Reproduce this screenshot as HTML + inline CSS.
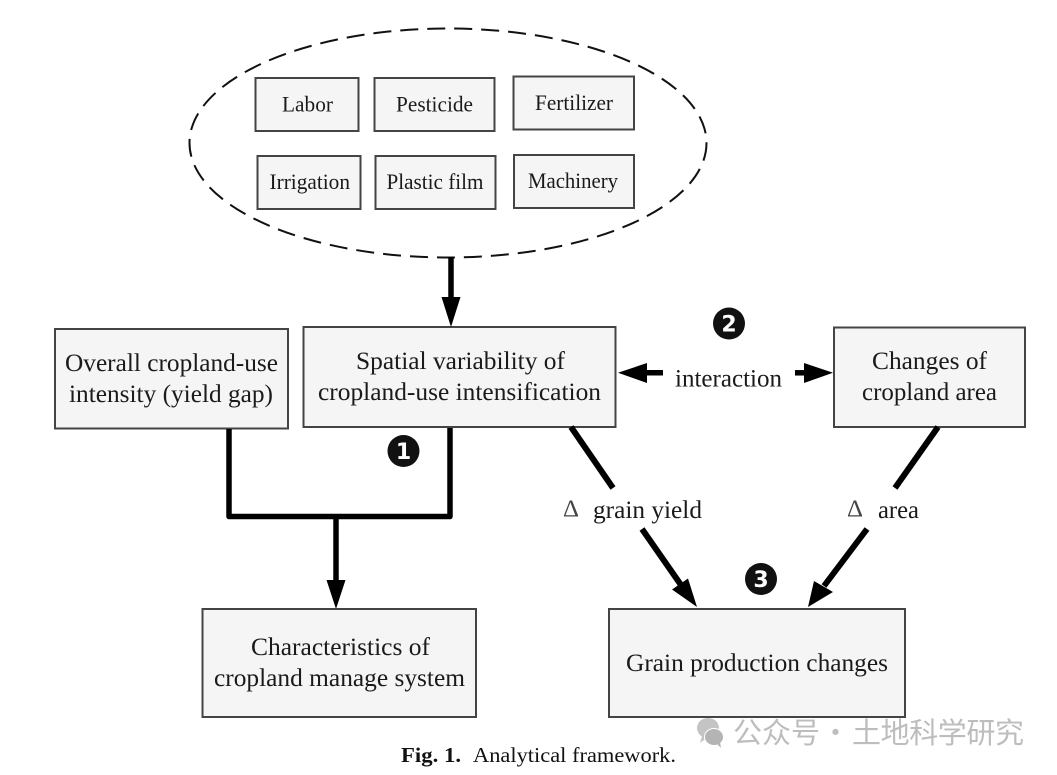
<!DOCTYPE html>
<html><head><meta charset="utf-8"><style>
html,body{margin:0;padding:0;background:#fff;width:1057px;height:775px;overflow:hidden}
svg{display:block}
text{font-family:"Liberation Serif","Noto Serif CJK SC",serif;fill:#1a1a1a}
.b{fill:#f5f5f5;stroke:#444;stroke-width:2}
.l{stroke:#000;stroke-width:5.500;fill:none}
.d{stroke:#000;stroke-width:6;fill:none}
.s{font-size:22px}.m{font-size:25.500px}
.n{font-family:"DejaVu Sans","Liberation Sans",sans-serif;font-weight:bold;font-size:22px;fill:#fff;text-anchor:middle}
.w{font-family:"Noto Sans CJK SC",sans-serif;fill:#bdbdbd;font-size:29px}
</style></head><body>
<svg width="1057" height="775" viewBox="0 0 1057 775" xmlns="http://www.w3.org/2000/svg">
<rect width="1057" height="775" fill="#fff"/>
<ellipse cx="448" cy="143" rx="258.500" ry="114.500" fill="none" stroke="#111" stroke-width="2" stroke-dasharray="18 9"/>

<rect class="b" x="255.500" y="78" width="103" height="53"/>
<rect class="b" x="374.500" y="78" width="120" height="53"/>
<rect class="b" x="513.500" y="76.500" width="120.500" height="53"/>
<rect class="b" x="257.500" y="156" width="103" height="53"/>
<rect class="b" x="375.500" y="156" width="120" height="53"/>
<rect class="b" x="514" y="155" width="120" height="53"/>
<text class="s" x="282" y="111.500" textLength="51" lengthAdjust="spacingAndGlyphs">Labor</text>
<text class="s" x="396" y="111.500" textLength="77" lengthAdjust="spacingAndGlyphs">Pesticide</text>
<text class="s" x="535" y="110" textLength="78" lengthAdjust="spacingAndGlyphs">Fertilizer</text>
<text class="s" x="269.500" y="189" textLength="80.500" lengthAdjust="spacingAndGlyphs">Irrigation</text>
<text class="s" x="386.500" y="189" textLength="97" lengthAdjust="spacingAndGlyphs">Plastic film</text>
<text class="s" x="528" y="188" textLength="90" lengthAdjust="spacingAndGlyphs">Machinery</text>

<rect class="b" x="55" y="329" width="233" height="99.500"/>
<rect class="b" x="303.500" y="327" width="312" height="100"/>
<rect class="b" x="834" y="327.500" width="191" height="99.500"/>
<rect class="b" x="202.500" y="609" width="273.500" height="108"/>
<rect class="b" x="609" y="609" width="296" height="108"/>
<text class="m" x="65" y="371" textLength="213" lengthAdjust="spacingAndGlyphs">Overall cropland-use</text>
<text class="m" x="69" y="402" textLength="204" lengthAdjust="spacingAndGlyphs">intensity (yield gap)</text>
<text class="m" x="356" y="369" textLength="209" lengthAdjust="spacingAndGlyphs">Spatial variability of</text>
<text class="m" x="318" y="400" textLength="283" lengthAdjust="spacingAndGlyphs">cropland-use intensification</text>
<text class="m" x="872" y="369" textLength="115" lengthAdjust="spacingAndGlyphs">Changes of</text>
<text class="m" x="862" y="400" textLength="135" lengthAdjust="spacingAndGlyphs">cropland area</text>
<text class="m" x="251" y="655" textLength="179" lengthAdjust="spacingAndGlyphs">Characteristics of</text>
<text class="m" x="214" y="686" textLength="251" lengthAdjust="spacingAndGlyphs">cropland manage system</text>
<text class="m" x="626" y="671" textLength="262" lengthAdjust="spacingAndGlyphs">Grain production changes</text>
<text class="m" x="675" y="386.500" textLength="107" lengthAdjust="spacingAndGlyphs">interaction</text>
<text class="m" x="593" y="518" textLength="109" lengthAdjust="spacingAndGlyphs">grain yield</text>
<text class="m" x="878" y="518" textLength="41" lengthAdjust="spacingAndGlyphs">area</text>
<text x="563" y="516.500" font-size="24" textLength="16" lengthAdjust="spacingAndGlyphs" style="fill:#444">Δ</text>
<text x="847" y="516.500" font-size="24" textLength="16" lengthAdjust="spacingAndGlyphs" style="fill:#444">Δ</text>

<!-- top arrow -->
<line class="l" x1="451" y1="257" x2="451" y2="300"/>
<polygon points="441.500,297 460.500,297 451,327"/>
<!-- merge connector -->
<path class="l" d="M229 429V516.500H450V428" stroke-linejoin="round"/>
<line class="l" x1="336" y1="517" x2="336" y2="583"/>
<polygon points="326.500,580 345.500,580 336,609"/>
<!-- interaction arrows -->
<line class="l" x1="645" y1="372.800" x2="663" y2="372.800"/>
<polygon points="618,372.800 647,363 647,383"/>
<line class="l" x1="795" y1="372.800" x2="806" y2="372.800"/>
<polygon points="833,372.800 804,363 804,383"/>
<!-- diagonals -->
<line class="d" x1="571" y1="427" x2="613" y2="488"/>
<line class="d" x1="642" y1="529" x2="681" y2="585"/>
<polygon points="697,607 672,589.500 688,578.500"/>
<line class="d" x1="938" y1="427" x2="895" y2="488"/>
<line class="d" x1="867" y1="529" x2="824" y2="586"/>
<polygon points="808,607 814,581 833,592"/>

<!-- number badges -->
<circle cx="403.500" cy="451" r="16" fill="#111"/><text class="n" x="403.500" y="459">1</text>
<circle cx="729" cy="323.500" r="16" fill="#111"/><text class="n" x="729" y="331.500">2</text>
<circle cx="761" cy="579" r="16" fill="#111"/><text class="n" x="761" y="587">3</text>

<!-- caption -->
<text x="401" y="762" font-size="21.500" font-weight="bold" style="fill:#111" textLength="60" lengthAdjust="spacingAndGlyphs">Fig. 1.</text>
<text x="473" y="762" font-size="21.500" style="fill:#111" textLength="203" lengthAdjust="spacingAndGlyphs">Analytical framework.</text>

<!-- watermark -->
<ellipse cx="708" cy="728" rx="11" ry="10" fill="#c4c4c4"/>
<polygon points="702,736 700,743 708,737" fill="#c4c4c4"/>
<ellipse cx="714" cy="737" rx="9.500" ry="8.500" fill="#b4b4b4" stroke="#fff" stroke-width="1"/>
<polygon points="717,744 721,748 720,742" fill="#b4b4b4"/>
<text class="w" x="733" y="743" textLength="87">公众号</text>
<text class="w" x="821" y="743">·</text>
<text class="w" x="852" y="743" textLength="172">土地科学研究</text>
</svg>
</body></html>
